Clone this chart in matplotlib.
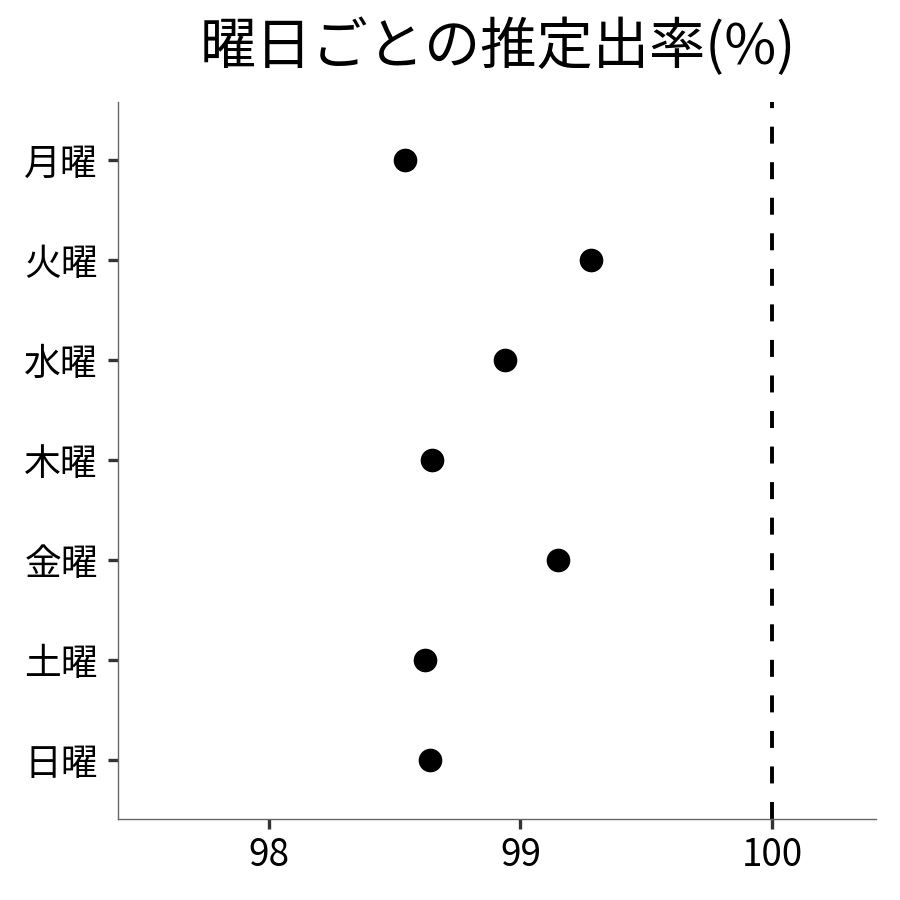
import matplotlib
matplotlib.use("Agg")

import matplotlib.pyplot as plt

plt.rcParams["font.family"] = ["Noto Sans CJK JP", "DejaVu Sans"]

# Data
DAYS = ["月曜", "火曜", "水曜", "木曜", "金曜", "土曜", "日曜"]
RATES = [98.54, 99.28, 98.94, 98.65, 99.15, 98.62, 98.64]
REF_LINE = 100
X_TICKS = [98, 99, 100]

TITLE = "曜日ごとの推定出率(%)"

fig = plt.figure(figsize=(9, 9), dpi=100)
ax = fig.add_axes([118 / 900, 81 / 900, 758 / 900, 717 / 900])

ypos = list(range(len(DAYS)))
ax.scatter(RATES, ypos, s=290, color="black", zorder=3, linewidths=0)
ax.axvline(REF_LINE, color="black", linewidth=2.8,
           linestyle=(0, (4.37, 4.77)), zorder=2)

ax.set_xlim(97.40, 100.414)
ax.set_ylim(len(DAYS) - 1 + 0.59, -0.58)
ax.set_xticks(X_TICKS)
ax.set_xticklabels([str(t) for t in X_TICKS])
ax.set_yticks(ypos)
ax.set_yticklabels(DAYS)

for side in ("top", "right"):
    ax.spines[side].set_visible(False)
for side in ("left", "bottom"):
    ax.spines[side].set_color("#666666")
    ax.spines[side].set_linewidth(1.0)

ax.tick_params(axis="both", length=7.5, width=2.4, color="#333333",
               labelsize=26.5, labelcolor="black")
ax.tick_params(axis="x", pad=5)
ax.tick_params(axis="y", pad=7)

fig.suptitle(TITLE, fontsize=40.5, x=0.553, y=0.979, va="top")

fig.savefig("out.png", dpi=100)
